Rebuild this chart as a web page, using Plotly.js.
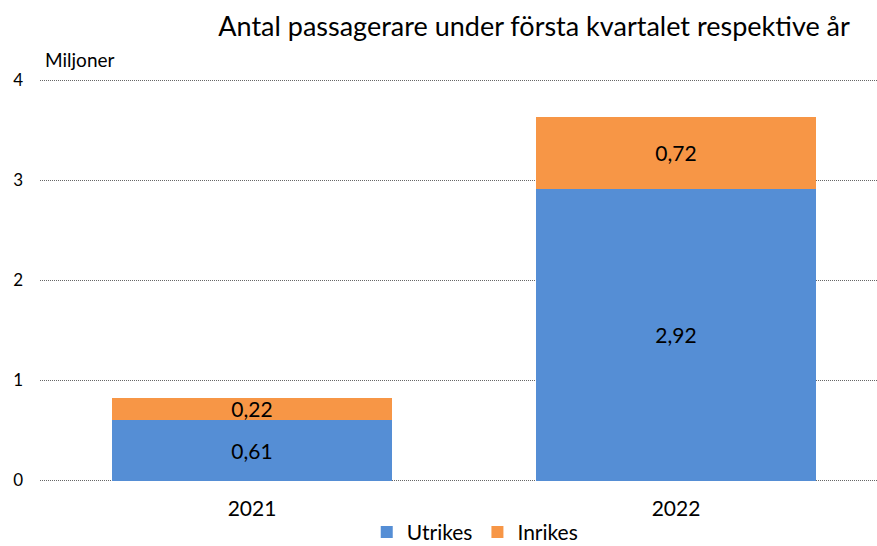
<!DOCTYPE html>
<html>
<head>
<meta charset="utf-8">
<script src="https://cdn.plot.ly/plotly-3.0.1.min.js"></script>
<style>html,body{margin:0;padding:0;background:#fff;}#chart{width:877px;height:546px;}</style>
</head>
<body>
<div id="chart"></div>
<script>
const years = ["2021", "2022"];
const utrikes = [0.61, 2.92];
const inrikes = [0.22, 0.72];
const yTicks = [0, 1, 2, 3, 4];

const FONT = "Lato, 'Open Sans', sans-serif";

const traces = [
  {
    type: "bar", name: "Utrikes", x: [0, 1], y: utrikes,
    marker: {color: "#558ED5"},
    width: 0.66,
    texttemplate: "%{y:.2f}", textposition: "inside", insidetextanchor: "middle",
    constraintext: "none",
    textfont: {size: 21, color: "#000", family: FONT},
    hoverinfo: "skip"
  },
  {
    type: "bar", name: "Inrikes", x: [0, 1], y: inrikes,
    marker: {color: "#F79646"},
    width: 0.66,
    texttemplate: "%{y:.2f}", textposition: "inside", insidetextanchor: "middle",
    constraintext: "none",
    textfont: {size: 21, color: "#000", family: FONT},
    hoverinfo: "skip"
  }
];

const layout = {
  width: 877, height: 546,
  margin: {l: 40, r: 0, t: 79, b: 64, autoexpand: false},
  barmode: "stack",
  separators: ", ",
  paper_bgcolor: "#fff", plot_bgcolor: "#fff",
  font: {family: FONT, color: "#000"},
  title: {
    text: "Antal passagerare under första kvartalet respektive år",
    font: {size: 27, color: "#000", family: FONT},
    x: 0.609, xanchor: "center", xref: "container",
    y: 0.952, yanchor: "middle", yref: "container"
  },
  xaxis: {
    range: [-0.5, 1.474],
    tickvals: [0, 1], ticktext: years,
    showgrid: false, zeroline: false, showline: false,
    ticks: "", tickfont: {size: 21, color: "#000"},
    ticklabelstandoff: 12
  },
  yaxis: {
    range: [-0.015, 4.015], tickvals: yTicks,
    showgrid: true, gridcolor: "#666", griddash: "1px,1px", gridwidth: 1,
    zeroline: false, showline: false, ticks: "",
    tickfont: {size: 17, color: "#000"},
    ticklabelstandoff: 16
  },
  showlegend: true,
  legend: {
    orientation: "h", x: 0.52, xanchor: "center", y: -0.125, yanchor: "middle",
    font: {size: 21, color: "#000"}, traceorder: "normal",
    itemwidth: 30
  },
  annotations: [{
    text: "Miljoner", xref: "paper", yref: "paper", x: 0.004, y: 1.0,
    xanchor: "left", yanchor: "bottom", yshift: 6, showarrow: false,
    font: {size: 19, color: "#000"}
  }]
};

Plotly.newPlot("chart", traces, layout, {displayModeBar: false, staticPlot: true});
</script>
</body>
</html>
